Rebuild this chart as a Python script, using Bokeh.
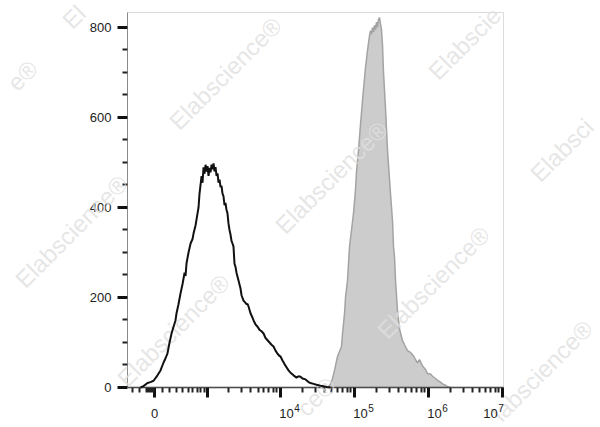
import numpy as np
from bokeh.plotting import figure
from bokeh.models import Range1d, FixedTicker, Label, LinearAxis, BoxAnnotation
from bokeh.embed import file_html
from bokeh.resources import INLINE

# ---------------- data (fluorescence intensity, event count) ----------------
unstained_fl = [-180, -140, -88, -50, -12, 37, 75, 113, 140, 166, 194, 222, 251, 280, 296,
                327, 360, 395, 431, 449, 468, 507, 549, 592, 614, 661, 710, 736, 762, 790,
                818, 846, 876, 906, 938, 970, 1003, 1037, 1072, 1108, 1146, 1184, 1223, 1264,
                1306, 1349, 1393, 1439, 1486, 1534, 1584, 1635, 1688, 1743, 1799, 1857, 1916,
                1980, 2044, 2109, 2177, 2247, 2319, 2393, 2470, 2549, 2715, 2892, 2985, 3177,
                3382, 3491, 3601, 3717, 3956, 4213, 4354, 4634, 4932, 5248, 5584, 5944, 6324,
                6730, 7162, 7622, 8112, 8632, 9188, 9778, 10086, 10732, 11424, 12156, 12936,
                13766, 15116, 16594, 17658, 18794, 20000, 21960, 24100, 25640, 28160, 30920,
                35020, 38440, 42220, 47800]
unstained_count = [0, 3, 10, 12, 15, 27, 38, 55, 65, 76, 100, 120, 135, 149, 165,
                   185, 209, 230, 255, 248, 276, 300, 320, 330, 342, 360, 387, 400, 431, 450,
                   470, 455, 489, 475, 495, 480, 492, 470, 488, 478, 495, 485, 498, 480,
                   490, 470, 476, 455, 462, 445, 448, 431, 425, 405, 410, 395, 387,
                   364, 350, 340, 326, 320, 313, 275, 268, 255, 238, 220, 205, 193,
                   188, 185, 186, 180, 165, 155, 149, 140, 135, 128, 125, 120, 110,
                   105, 100, 95, 91, 82, 75, 70, 69, 60, 52, 45, 38,
                   33, 27, 22, 25, 24, 20, 18, 12, 10, 8, 6,
                   4, 3, 1, 0]

stained_fl = [37260, 44920, 47800, 50880, 54140, 59440, 63240, 67300, 69440, 73900, 76220,
              81120, 86340, 91880, 97780, 104060, 107360, 114240, 121560, 129360, 142020,
              151160, 160860, 165960, 171200, 176620, 182220, 187960, 193880, 200000, 206240,
              212800, 219560, 226480, 233700, 241100, 248700, 256600, 264700, 281600, 309300,
              329200, 339400, 350100, 361300, 384400, 409200, 449200, 478000, 524700, 576000,
              632500, 673200, 716400, 762200, 837000, 918800, 977800, 1073000, 1142000,
              1254000, 1335000, 1465000, 1559000, 1712000, 1822000, 2000000]
stained_count = [0, 2, 8, 20, 38, 69, 80, 91, 120, 164, 200,
                 238, 313, 350, 387, 440, 480, 527, 585, 638, 711,
                 749, 782, 793, 785, 800, 790, 805, 795, 812, 800,
                 818, 822, 808, 795, 760, 700, 660, 620, 527, 430,
                 370, 313, 290, 238, 170, 130, 104, 95, 82, 78,
                 70, 62, 55, 62, 48, 40, 31, 30, 25,
                 20, 16, 12, 8, 5, 2, 0]

x_major_values = [0, 1e3, 1e4, 1e5, 1e6, 1e7]
x_label_values = [0, 1e4, 1e5, 1e6, 1e7]
x_label_base = ["0", "10", "10", "10", "10"]
x_label_exp = ["", "4", "5", "6", "7"]
y_tick_values = [0, 200, 400, 600, 800]
y_tick_labels = ["0", "200", "400", "600", "800"]
y_minor_values = [50, 100, 150, 250, 300, 350, 450, 500, 550, 650, 700, 750]

# watermark: (text, anchor x, anchor y in page pixels, alignment)
watermarks = [
    ("Elabscience\u00ae", 225, 73, "center"),
    ("Elabscience\u00ae", 71, 231, "center"),
    ("Elabscience\u00ae", 331, 177, "center"),
    ("Elabscience\u00ae", 433, 282, "center"),
    ("Elabscience\u00ae", 173, 330, "center"),
    ("labscience\u00ae", 588, 324, "right"),
    ("El", 66, 24, "left"),
    ("e\u00ae", 33, 64, "right"),
    ("Elabscie", 432, 75, "left"),
    ("Elabsci", 534, 177, "left"),
    ("ce\u00ae", 331, 381, "right"),
]

# ---------------- biexponential (arcsinh) display transform ----------------
COFACTOR = 400.0


def biex(v):
    return np.arcsinh(np.asarray(v, dtype=float) / COFACTOR) / np.log(10)


W, H = 600, 427
BOX_L, BOX_R, BOX_T, BOX_B = 127, 503, 12, 387      # plot box in page pixels
X0, X1 = -0.365, 4.716
Y0, Y1 = 0.0, 833.3
KX = (BOX_R - BOX_L) / (X1 - X0)
KY = (BOX_B - BOX_T) / (Y1 - Y0)


def to_data(px, py):
    return X0 + (px - BOX_L) / KX, Y0 + (BOX_B - py) / KY


xs, ye = to_data(0, 0)
xe, ys = to_data(W, H)

p = figure(width=W, height=H, x_range=Range1d(xs, xe), y_range=Range1d(ys, ye),
           x_axis_type=None, y_axis_type=None, min_border=0,
           output_backend="svg", toolbar_location=None)
p.grid.visible = False
p.outline_line_color = None
p.background_fill_color = "white"
p.border_fill_color = "white"

# stained (filled grey)
sx = biex(stained_fl)
p.varea(x=sx, y1=np.zeros(len(sx)), y2=stained_count, fill_color="#cccccc")
p.line(x=sx, y=stained_count, line_color="#a3a3a3", line_width=1.5)

# plot box
p.add_layout(BoxAnnotation(left=X0, right=X1, bottom=Y0, top=Y1, fill_alpha=0,
                           line_color="#8a8a8a", line_width=1))

# watermarks
for (txt, px, py, align) in watermarks:
    dx, dy = to_data(px, py)
    p.add_layout(Label(x=dx, y=dy, text=txt, angle=45, angle_units="deg",
                       text_align=align, text_baseline="middle",
                       text_font="Liberation Sans", text_font_size="24px",
                       text_color="#e0e0e0", text_alpha=0.8))

# unstained (black outline)
ux = biex(unstained_fl)
r = p.line(x=ux, y=unstained_count, line_color="#111111", line_width=2)
r.level = "overlay"

# ---------------- axes ----------------
xt = [round(float(v), 6) for v in biex(x_major_values)]
neg_minor = [-300, -200, -100, -90, -80, -70, -60, -50, -40, -30, -20, -10]
pos_minor = [100, 200, 300, 400, 500, 600, 700, 800, 900]
for e in range(3, 7):
    pos_minor += [k * 10 ** e for k in range(2, 10)]
xm = [round(float(v), 6) for v in biex(neg_minor + pos_minor)]

xaxis = LinearAxis(fixed_location=Y0, bounds=(X0, X1),
                   ticker=FixedTicker(ticks=xt, minor_ticks=xm))
xaxis.major_label_overrides = {t: "" for t in xt}
yaxis = LinearAxis(fixed_location=X0, bounds=(Y0, Y1),
                   ticker=FixedTicker(ticks=y_tick_values, minor_ticks=y_minor_values))
yaxis.major_label_overrides = {t: lab for t, lab in zip(y_tick_values, y_tick_labels)}

for ax in (xaxis, yaxis):
    ax.major_tick_in = 0
    ax.major_tick_out = 10
    ax.minor_tick_in = 0
    ax.minor_tick_out = 5
    ax.major_tick_line_width = 3
    ax.minor_tick_line_width = 2
    ax.major_tick_line_color = "#111111"
    ax.minor_tick_line_color = "#222222"
    ax.major_label_text_font = "Liberation Sans"
    ax.major_label_text_font_size = "13px"
    ax.major_label_text_color = "#222222"

xaxis.axis_line_color = "#333333"
xaxis.axis_line_width = 1.5
yaxis.axis_line_color = "#8a8a8a"
yaxis.axis_line_width = 1
yaxis.major_label_standoff = 6

p.add_layout(xaxis, "below")
p.add_layout(yaxis, "left")

# x tick labels: "10" with a raised exponent, as in the original
for i, (v, base, ex) in enumerate(zip(x_label_values, x_label_base, x_label_exp)):
    xv = float(biex(v))
    if ex == "":
        p.add_layout(Label(x=xv, y=Y0, y_offset=-26, text=base, text_align="center",
                           text_baseline="middle", text_font="Liberation Sans",
                           text_font_size="13px", text_color="#222222"))
    else:
        shift = -19 if i == len(x_label_values) - 1 else -1
        p.add_layout(Label(x=xv, y=Y0, x_offset=shift, y_offset=-26, text=base,
                           text_align="left", text_baseline="middle",
                           text_font="Liberation Sans", text_font_size="13px",
                           text_color="#222222"))
        p.add_layout(Label(x=xv, y=Y0, x_offset=shift + 15, y_offset=-20, text=ex,
                           text_align="left", text_baseline="middle",
                           text_font="Liberation Sans", text_font_size="10px",
                           text_color="#222222"))

open("out.html", "w").write(file_html(p, INLINE))
